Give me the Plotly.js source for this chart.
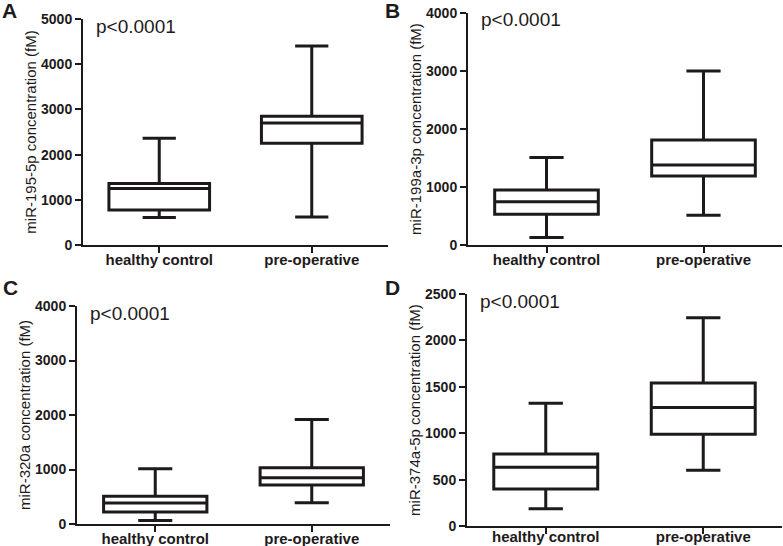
<!DOCTYPE html>
<html>
<head>
<meta charset="utf-8">
<script src="https://cdn.plot.ly/plotly-3.0.1.min.js"></script>
<style>html,body{margin:0;padding:0;background:#fff;}#chart{width:783px;height:546px;}</style>
</head>
<body>
<div id="chart"></div>
<script>
// Categories
var groups = ['healthy control', 'pre-operative'];

// Panel A: miR-195-5p
var a_min = [610, 620];
var a_q1 = [775, 2250];
var a_med = [1250, 2700];
var a_q3 = [1360, 2850];
var a_max = [2360, 4400];

// Panel B: miR-199a-3p
var b_min = [130, 515];
var b_q1 = [530, 1190];
var b_med = [745, 1380];
var b_q3 = [950, 1810];
var b_max = [1510, 3000];

// Panel C: miR-320a
var c_min = [65, 390];
var c_q1 = [220, 715];
var c_med = [385, 850];
var c_q3 = [507, 1032];
var c_max = [1012, 1918];

// Panel D: miR-374a-5p
var d_min = [185, 600];
var d_q1 = [399, 990];
var d_med = [632, 1278];
var d_q3 = [775, 1541];
var d_max = [1322, 2245];

var yTitles = ['miR-195-5p concentration (fM)', 'miR-199a-3p concentration (fM)',
               'miR-320a concentration (fM)', 'miR-374a-5p concentration (fM)'];
var yMax = [5000, 4000, 4000, 2500];
var yStep = [1000, 1000, 1000, 500];
var pText = 'p<0.0001';
var letters = ['A', 'B', 'C', 'D'];

var W = 783, H = 546;
var ink = '#1e1a1b';
var fam = 'Liberation Sans, Arial, sans-serif';

function box(ax, mn, q1, md, q3, mx) {
  return {
    type: 'box',
    x: groups, q1: q1, median: md, q3: q3, lowerfence: mn, upperfence: mx,
    xaxis: 'x' + ax, yaxis: 'y' + ax,
    width: 0.66, whiskerwidth: 0.33,
    fillcolor: 'rgba(255,255,255,0)',
    line: {color: ink, width: 3},
    boxpoints: false, hoverinfo: 'skip', showlegend: false
  };
}

var data = [
  box('', a_min, a_q1, a_med, a_q3, a_max),
  box('2', b_min, b_q1, b_med, b_q3, b_max),
  box('3', c_min, c_q1, c_med, c_q3, c_max),
  box('4', d_min, d_q1, d_med, d_q3, d_max)
];
data[0].xaxis = 'x'; data[0].yaxis = 'y';

// panel pixel geometry: [left, right, top, bottom]
var geo = [[83, 388, 19, 245], [468, 782, 13, 245], [77, 390, 306, 524], [467, 782, 294, 526]];
var labelShift = [-6, -6, -6, -10];

var layout = {
  width: W, height: H,
  margin: {l: 0, r: 0, t: 0, b: 0},
  paper_bgcolor: '#fff', plot_bgcolor: '#fff',
  font: {family: fam, color: ink},
  annotations: []
};

for (var i = 0; i < 4; i++) {
  var g = geo[i];
  var xs = i === 0 ? 'xaxis' : 'xaxis' + (i + 1);
  var ys = i === 0 ? 'yaxis' : 'yaxis' + (i + 1);
  var xa = i === 0 ? 'x' : 'x' + (i + 1);
  var ya = i === 0 ? 'y' : 'y' + (i + 1);
  layout[xs] = {
    domain: [g[0] / W, g[1] / W], anchor: ya,
    type: 'category', range: [-0.5, 1.5],
    showline: true, linecolor: ink, linewidth: 2,
    ticks: 'outside', ticklen: 6, tickwidth: 2, tickcolor: ink,
    showgrid: false, zeroline: false, ticklabelstandoff: labelShift[i],
    tickfont: {family: fam, size: 15, weight: 'bold', color: ink}
  };
  layout[ys] = {
    domain: [1 - g[3] / H, 1 - g[2] / H], anchor: xa,
    range: [0, yMax[i]], dtick: yStep[i], tick0: 0,
    showline: true, linecolor: ink, linewidth: 2,
    ticks: 'outside', ticklen: 6, tickwidth: 2, tickcolor: ink,
    showgrid: false, zeroline: false,
    tickfont: {family: fam, size: 14, weight: 'bold', color: ink},
    title: {text: yTitles[i], font: {family: fam, size: 15, color: ink}, standoff: 1}
  };
  layout.annotations.push({
    xref: 'paper', yref: 'paper', x: (g[0] + 11) / W, y: 1 - (g[2] + 7) / H,
    xanchor: 'left', yanchor: 'middle', showarrow: false,
    text: pText, font: {family: fam, size: 19, color: ink}
  });
}
var letterPos = [[0, 10], [383, 10], [1, 287], [383, 287]];
for (var j = 0; j < 4; j++) {
  layout.annotations.push({
    xref: 'paper', yref: 'paper', x: letterPos[j][0] / W, y: 1 - letterPos[j][1] / H,
    xanchor: 'left', yanchor: 'middle', showarrow: false,
    text: letters[j], font: {family: fam, size: 21, weight: 'bold', color: ink}
  });
}

Plotly.newPlot('chart', data, layout, {displayModeBar: false, staticPlot: true});
</script>
</body>
</html>
